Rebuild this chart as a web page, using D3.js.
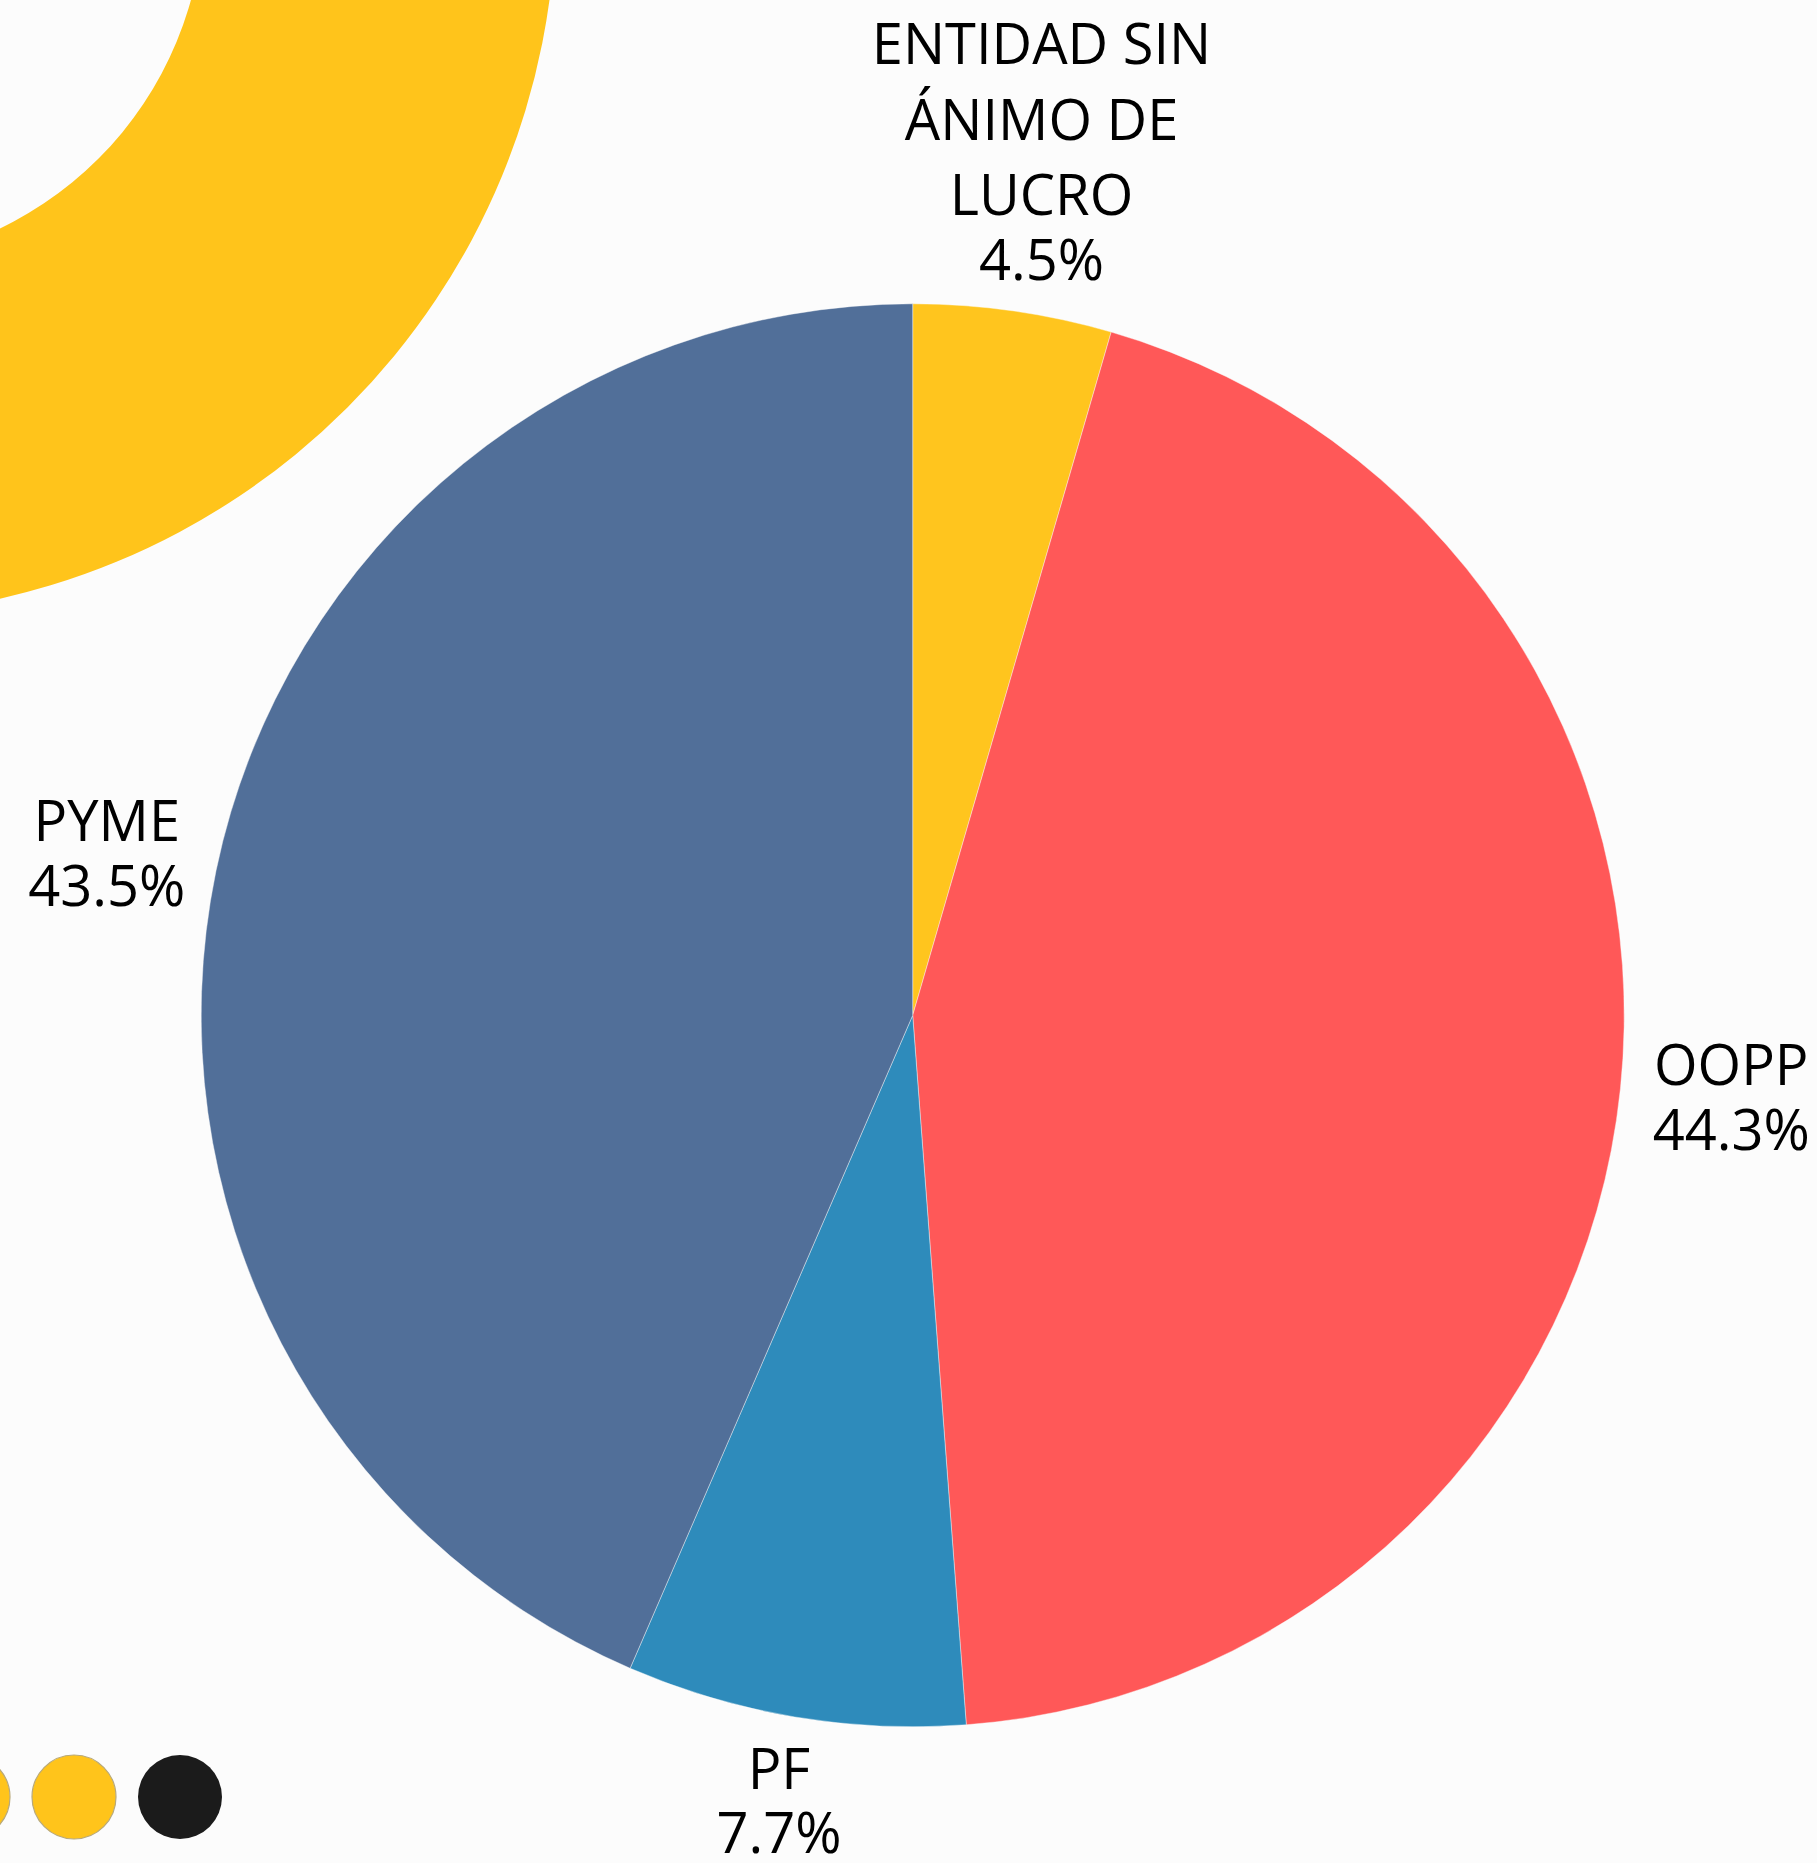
<!DOCTYPE html>
<html>
<head>
<meta charset="utf-8">
<script src="https://cdn.jsdelivr.net/npm/d3@7"></script>
<style>
  html, body { margin: 0; padding: 0; background: #fcfcfc; }
  svg { display: block; }
</style>
</head>
<body>
<svg id="chart" width="1817" height="1863"></svg>
<script>
/* global d3 */
const labels = ['ENTIDAD SIN\nÁNIMO DE\nLUCRO', 'OOPP', 'PF', 'PYME']
const values = [4.5, 44.3, 7.7, 43.5]
const colors = ['#ffc51e', '#ff5858', '#2e8bbb', '#516f99']

const width = 1817
const height = 1863
const cx = 912.7
const cy = 1015.3
const radius = 711.5

const svg = d3.select('#chart')
svg.append('rect').attr('width', width).attr('height', height).attr('fill', '#fcfcfc')

// decoration: yellow ring cut by the top-left corner
svg.append('path')
  .attr('transform', 'translate(-156,-96)')
  .attr('d', d3.arc()({ innerRadius: 360, outerRadius: 712, startAngle: 0, endAngle: 2 * Math.PI }))
  .attr('fill', '#ffc41b')

// decoration: dots bottom-left
const dots = [{ x: -32, c: '#ffc41b' }, { x: 74, c: '#ffc41b' }, { x: 180, c: '#1b1b1b' }]
svg.selectAll('circle.dot').data(dots)
  .enter().append('circle')
  .attr('class', 'dot')
  .attr('cx', d => d.x)
  .attr('cy', 1797)
  .attr('r', 42)
  .attr('fill', d => d.c)
  .attr('stroke', (d, i) => i < 2 ? '#b8a97a' : 'none')
  .attr('stroke-width', 1.2)

const data = labels.map((l, i) => ({ label: l, value: values[i], color: colors[i] }))
const pie = d3.pie().sort(null).value(d => d.value)
const arcs = pie(data)
const arc = d3.arc().innerRadius(0).outerRadius(radius)

const g = svg.append('g').attr('transform', `translate(${cx},${cy})`)
g.selectAll('path').data(arcs)
  .enter().append('path')
  .attr('d', arc)
  .attr('fill', d => d.data.color)
  .attr('stroke', '#fcfcfc')
  .attr('stroke-width', 0.4)

const fontSize = 56
const capH = 0.714 * fontSize
const wrapStep = 75.5
const pctStep = 64.5
const gap = 33

arcs.forEach(a => {
  const lines = a.data.label.split('\n')
  const total = d3.sum(values)
  const pct = (a.data.value / total * 100).toFixed(1) + '%'
  const text = g.append('text')
    .attr('text-anchor', 'middle')
    .style('font-family', '"Open Sans", "Noto Sans", sans-serif')
    .style('font-size', fontSize + 'px')
    .attr('fill', '#000')
  let yOff = 0
  const offs = []
  lines.forEach((l, i) => {
    if (i > 0) yOff += wrapStep
    offs.push(yOff)
  })
  yOff += pctStep
  offs.push(yOff)
  const all = lines.concat([pct])
  const spans = all.map((l, i) => text.append('tspan').attr('x', 0).attr('y', offs[i]).text(l))
  const w = d3.max(spans, s => s.node().getComputedTextLength())
  const h = capH + yOff
  const mid = (a.startAngle + a.endAngle) / 2
  const ux = Math.sin(mid)
  const uy = -Math.cos(mid)
  const bx = ux * (radius + gap) + ux * w / 2
  const by = uy * (radius + gap) + uy * h / 2
  const top = by - h / 2 + capH
  spans.forEach((s, i) => s.attr('x', bx).attr('y', top + offs[i]))
})
</script>
</body>
</html>
